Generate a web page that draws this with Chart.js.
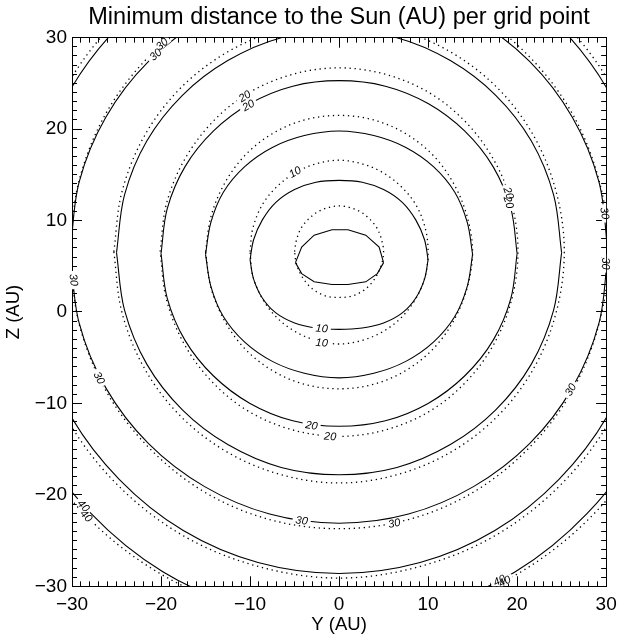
<!DOCTYPE html>
<html>
<head>
<meta charset="utf-8">
<title>Minimum distance to the Sun</title>
<script src="https://cdn.jsdelivr.net/npm/chart.js@4.4.1/dist/chart.umd.min.js"></script>
<style>
  html, body { margin: 0; padding: 0; background: #fff; }
  canvas { display: block; }
</style>
</head>
<body>
<canvas id="contours" width="634" height="637"></canvas>
<script>
// contour levels, AU
const levels = [5, 10, 15, 20, 25, 30, 35, 40];

const tickValues = [-30, -20, -10, 0, 10, 20, 30];
const tickLabels = ["\u221230", "\u221220", "\u221210", "0", "10", "20", "30"];

// solid contours, [Y, Z] in AU
const solid5 = [[-4.9,5.4],[-4.2,7.1],[-2.8,8.4],[-0.8,9.0],[1.0,9.0],[3.0,8.4],[4.5,7.1],[5.0,5.4],[4.3,4.2],[3.0,3.3],[1.0,3.0],[-0.8,3.0],[-2.8,3.3],[-4.2,4.2],[-4.9,5.4]];
const solid10 = [[-10.0,5.7],[-9.6,7.9],[-8.6,10.1],[-7.1,12.0],[-5.0,13.4],[-2.6,14.2],[0,14.4],[2.6,14.2],[5.0,13.4],[7.1,12.0],[8.6,10.1],[9.6,7.9],[10.0,5.7],[9.6,3.6],[8.6,1.5],[7.1,-0.1],[5.0,-1.2],[2.6,-1.75],[0,-1.9],[-2.6,-1.75],[-5.0,-1.2],[-7.1,-0.1],[-8.6,1.5],[-9.6,3.6],[-10.0,5.7]];
const solid15 = [[-15.0,6.3],[-14.4,9.8],[-13.0,13.1],[-10.6,15.9],[-7.5,18.0],[-3.9,19.3],[0,19.8],[3.9,19.3],[7.5,18.0],[10.6,15.9],[13.0,13.1],[14.4,9.8],[15.0,6.3],[14.4,2.8],[13.0,-0.5],[10.6,-3.3],[7.5,-5.4],[3.9,-6.7],[0,-7.2],[-3.9,-6.7],[-7.5,-5.4],[-10.6,-3.3],[-13.0,-0.5],[-14.4,2.8],[-15.0,6.3]];
const solid20 = [[-20.0,6.4],[-19.3,11.3],[-17.3,15.9],[-14.1,19.8],[-10.0,22.8],[-5.2,24.7],[0,25.3],[5.2,24.7],[10.0,22.8],[14.1,19.8],[17.3,15.9],[19.3,11.3],[20.0,6.4],[19.3,1.5],[17.3,-3.1],[14.1,-7.0],[10.0,-10.0],[5.2,-11.9],[0,-12.5],[-5.2,-11.9],[-10.0,-10.0],[-14.1,-7.0],[-17.3,-3.1],[-19.3,1.5],[-20.0,6.4]];
const solid25 = [[-25.0,6.5],[-24.1,12.8],[-21.6,18.7],[-17.6,23.7],[-12.5,27.5],[-6.5,30.0],[0,30.8],[6.5,30.0],[12.5,27.5],[17.6,23.7],[21.6,18.7],[24.1,12.8],[25.0,6.5],[24.1,0.2],[21.6,-5.7],[17.6,-10.7],[12.5,-14.5],[6.5,-17.0],[0,-17.8],[-6.5,-17.0],[-12.5,-14.5],[-17.6,-10.7],[-21.6,-5.7],[-24.1,0.2],[-25.0,6.5]];
const solid30 = [[-30.2,6.5],[-29.2,14.2],[-26.2,21.3],[-21.4,27.4],[-15.1,32.1],[-7.8,35.1],[0,36.1],[7.8,35.1],[15.1,32.1],[21.4,27.4],[26.2,21.3],[29.2,14.2],[30.2,6.5],[29.2,-1.2],[26.2,-8.3],[21.4,-14.4],[15.1,-19.1],[7.8,-22.1],[0,-23.1],[-7.8,-22.1],[-15.1,-19.1],[-21.4,-14.4],[-26.2,-8.3],[-29.2,-1.2],[-30.2,6.5]];
const solid35 = [[-35.0,6.5],[-33.8,15.6],[-30.3,24.1],[-24.7,31.3],[-17.5,36.9],[-9.1,40.4],[0,41.6],[9.1,40.4],[17.5,36.9],[24.7,31.3],[30.3,24.1],[33.8,15.6],[35.0,6.5],[33.8,-2.6],[30.3,-11.1],[24.7,-18.3],[17.5,-23.9],[9.1,-27.4],[0,-28.6],[-9.1,-27.4],[-17.5,-23.9],[-24.7,-18.3],[-30.3,-11.1],[-33.8,-2.6],[-35.0,6.5]];
const solid40 = [[-39.5,6.5],[-38.2,16.9],[-34.2,26.7],[-27.9,35.0],[-19.8,41.4],[-10.2,45.4],[0,46.8],[10.2,45.4],[19.8,41.4],[27.9,35.0],[34.2,26.7],[38.2,16.9],[39.5,6.5],[38.2,-3.9],[34.2,-13.7],[27.9,-22.0],[19.8,-28.4],[10.2,-32.4],[0,-33.8],[-10.2,-32.4],[-19.8,-28.4],[-27.9,-22.0],[-34.2,-13.7],[-38.2,-3.9],[-39.5,6.5]];

// dotted contours, [Y, Z] in AU
const dotted5 = [[-5.0,6.6],[-4.8,7.8],[-4.3,9.1],[-3.5,10.1],[-2.5,10.9],[-1.3,11.4],[0,11.6],[1.3,11.4],[2.5,10.9],[3.5,10.1],[4.3,9.1],[4.8,7.8],[5.0,6.6],[4.8,5.3],[4.3,4.1],[3.5,3.0],[2.5,2.2],[1.3,1.7],[0,1.6],[-1.3,1.7],[-2.5,2.2],[-3.5,3.0],[-4.3,4.1],[-4.8,5.3],[-5.0,6.6]];
const dotted10 = [[-10.0,6.6],[-9.7,9.1],[-8.7,11.6],[-7.1,13.6],[-5.0,15.2],[-2.6,16.2],[0,16.6],[2.6,16.2],[5.0,15.2],[7.1,13.6],[8.7,11.6],[9.7,9.1],[10.0,6.6],[9.7,4.0],[8.7,1.6],[7.1,-0.5],[5.0,-2.1],[2.6,-3.1],[0,-3.5],[-2.6,-3.1],[-5.0,-2.1],[-7.1,-0.5],[-8.7,1.6],[-9.7,4.0],[-10.0,6.6]];
const dotted15 = [[-15.0,6.6],[-14.4,10.4],[-12.9,14.0],[-10.6,17.1],[-7.5,19.5],[-3.9,21.0],[0,21.5],[3.9,21.0],[7.5,19.5],[10.6,17.1],[12.9,14.0],[14.4,10.4],[15.0,6.6],[14.4,2.7],[12.9,-0.9],[10.6,-4.0],[7.5,-6.4],[3.9,-7.9],[0,-8.4],[-3.9,-7.9],[-7.5,-6.4],[-10.6,-4.0],[-12.9,-0.9],[-14.4,2.7],[-15.0,6.6]];
const dotted20 = [[-20.1,6.6],[-19.4,11.8],[-17.4,16.6],[-14.2,20.8],[-10.1,24.0],[-5.2,26.0],[0,26.7],[5.2,26.0],[10.1,24.0],[14.2,20.8],[17.4,16.6],[19.4,11.8],[20.1,6.6],[19.4,1.4],[17.4,-3.5],[14.2,-7.7],[10.1,-10.9],[5.2,-12.9],[0,-13.6],[-5.2,-12.9],[-10.1,-10.9],[-14.2,-7.7],[-17.4,-3.5],[-19.4,1.4],[-20.1,6.6]];
const dotted25 = [[-25.3,6.6],[-24.4,13.1],[-21.9,19.2],[-17.9,24.4],[-12.6,28.4],[-6.5,30.9],[0,31.8],[6.5,30.9],[12.6,28.4],[17.9,24.4],[21.9,19.2],[24.4,13.1],[25.3,6.6],[24.4,0.0],[21.9,-6.1],[17.9,-11.3],[12.6,-15.3],[6.5,-17.8],[0,-18.7],[-6.5,-17.8],[-12.6,-15.3],[-17.9,-11.3],[-21.9,-6.1],[-24.4,0.0],[-25.3,6.6]];
const dotted30 = [[-30.3,6.6],[-29.2,14.4],[-26.2,21.7],[-21.4,27.9],[-15.1,32.8],[-7.8,35.8],[0,36.8],[7.8,35.8],[15.1,32.8],[21.4,27.9],[26.2,21.7],[29.2,14.4],[30.3,6.6],[29.2,-1.3],[26.2,-8.6],[21.4,-14.8],[15.1,-19.7],[7.8,-22.7],[0,-23.7],[-7.8,-22.7],[-15.1,-19.7],[-21.4,-14.8],[-26.2,-8.6],[-29.2,-1.3],[-30.3,6.6]];
const dotted35 = [[-35.6,6.6],[-34.4,15.8],[-30.8,24.4],[-25.2,31.7],[-17.8,37.4],[-9.2,40.9],[0,42.2],[9.2,40.9],[17.8,37.4],[25.2,31.7],[30.8,24.4],[34.4,15.8],[35.6,6.6],[34.4,-2.7],[30.8,-11.3],[25.2,-18.6],[17.8,-24.3],[9.2,-27.8],[0,-29.1],[-9.2,-27.8],[-17.8,-24.3],[-25.2,-18.6],[-30.8,-11.3],[-34.4,-2.7],[-35.6,6.6]];
const dotted40 = [[-40.5,6.6],[-39.1,17.0],[-35.1,26.8],[-28.6,35.2],[-20.3,41.6],[-10.5,45.7],[0,47.1],[10.5,45.7],[20.3,41.6],[28.6,35.2],[35.1,26.8],[39.1,17.0],[40.5,6.6],[39.1,-3.9],[35.1,-13.7],[28.6,-22.1],[20.3,-28.5],[10.5,-32.6],[0,-34.0],[-10.5,-32.6],[-20.3,-28.5],[-28.6,-22.1],[-35.1,-13.7],[-39.1,-3.9],[-40.5,6.6]];

// in-line contour labels: [level, Y, Z, angle in degrees]
const solidLabels = [[30,-20.6,28.15,-42],[20,-10.2,22.6,-29],[20,19.05,12.0,72],[30,29.85,10.8,81],[30,-29.8,3.5,84],[10,-1.95,-1.8,4],[20,-3.1,-12.4,8],[30,-4.2,-22.8,8],[30,26.0,-8.5,-59],[40,-28.7,-21.2,47],[40,18.0,-29.35,-27]];
const dottedLabels = [[30,-19.9,29.3,-41],[20,-10.6,23.6,-32],[10,-4.95,15.3,-30],[20,19.05,13.0,71],[30,29.9,5.3,90],[10,-1.95,-3.35,5],[20,-1.0,-13.6,3],[30,6.2,-23.1,-12],[30,-26.95,-7.2,63],[40,-28.4,-22.3,45],[40,18.6,-29.45,-27]];

const solidSet = [solid5, solid10, solid15, solid20, solid25, solid30, solid35, solid40];
const dottedSet = [dotted5, dotted10, dotted15, dotted20, dotted25, dotted30, dotted35, dotted40];

const W = 634, H = 637;
const frame = { left: 72, right: 622.3, top: 37.7, bottom: 586.3 };
const FONT = '"Liberation Sans", Arial, Helvetica, sans-serif';

Chart.defaults.font.family = FONT;
Chart.defaults.color = "#000";

const contour = (pts, dotted, tension) => ({
  data: pts.map(([y, z]) => ({ x: y, y: z })),
  showLine: true,
  borderColor: "#000",
  borderWidth: dotted ? 1.3 : 1.1,
  borderDash: dotted ? [1.3, 3.7] : [],
  pointRadius: 0,
  pointHoverRadius: 0,
  tension,
  capBezierPoints: false,
  xAxisID: "x",
  yAxisID: "y",
});

// solid rings have a point at both ends of their widest chord, so draw
// the upper and lower halves as separate strokes
const splitAtWidest = (pts) => {
  let k = 0;
  pts.forEach((p, i) => { if (p[0] > pts[k][0]) k = i; });
  return [pts.slice(0, k + 1), pts.slice(k)];
};

const datasets = [
  ...solidSet.flatMap((pts, i) =>
    splitAtWidest(pts).map((arc) => contour(arc, false, levels[i] === 5 ? 0 : 0.34))),
  ...dottedSet.map((pts) => contour(pts, true, 0.34)),
];

const tickText = (v) => {
  const i = tickValues.indexOf(v);
  return i < 0 ? "" : tickLabels[i];
};

// IDL style box: inward tick marks on all four sides, minor every 1 AU
const edgeAxis = (position, step, length, weight, size) => ({
  type: "linear",
  axis: position === "top" || position === "bottom" ? "x" : "y",
  position,
  min: -30,
  max: 30,
  weight,
  display: true,
  z: 1,
  ticks: { display: false, stepSize: step },
  grid: {
    display: true,
    drawOnChartArea: false,
    drawTicks: true,
    tickLength: -length,
    tickColor: "#000",
    tickWidth: 1,
  },
  border: { display: step === 10, color: "#000", width: 1 },
  afterFit: (s) => {
    if (s.isHorizontal()) s.height = size;
    else s.width = size;
  },
});

const labelAxis = (position, size, padding, titleText, titlePadding) => ({
  ...edgeAxis(position, 10, 10, 1, size),
  ticks: {
    display: true,
    stepSize: 10,
    padding,
    color: "#000",
    font: { family: FONT, size: 19 },
    maxRotation: 0,
    autoSkip: false,
    callback: (v) => tickText(v),
  },
  title: {
    display: true,
    text: titleText,
    color: "#000",
    font: { family: FONT, size: 18.5, lineHeight: 1.2 },
    padding: titlePadding,
  },
});

const contourLabels = {
  id: "contourLabels",
  afterDatasetsDraw(chart) {
    const { ctx, chartArea: area, scales } = chart;
    const spots = [...solidLabels, ...dottedLabels].map(([level, y, z, angle]) => ({
      text: String(level),
      px: scales.x.getPixelForValue(y),
      py: scales.y.getPixelForValue(z),
      rot: (angle * Math.PI) / 180,
    }));
    ctx.save();
    ctx.font = "italic 11px " + FONT;
    ctx.textAlign = "center";
    ctx.textBaseline = "middle";

    // break the contour line behind each label
    ctx.save();
    ctx.beginPath();
    ctx.rect(area.left, area.top, area.width, area.height);
    ctx.clip();
    ctx.fillStyle = "#fff";
    spots.forEach((s) => {
      const w = ctx.measureText(s.text).width + 6;
      ctx.save();
      ctx.translate(s.px, s.py);
      ctx.rotate(s.rot);
      ctx.fillRect(-w / 2, -4, w, 8);
      ctx.restore();
    });
    ctx.restore();

    ctx.fillStyle = "#000";
    spots.forEach((s) => {
      ctx.save();
      ctx.translate(s.px, s.py);
      ctx.rotate(s.rot);
      ctx.fillText(s.text, 0, 0.5);
      ctx.restore();
    });
    ctx.restore();
  },
};

new Chart(document.getElementById("contours"), {
  type: "scatter",
  data: { datasets },
  options: {
    responsive: false,
    animation: false,
    events: [],
    layout: { padding: 0, autoPadding: false },
    plugins: {
      legend: { display: false },
      tooltip: { enabled: false },
      title: {
        display: true,
        fullSize: false,
        text: "Minimum distance to the Sun (AU) per grid point",
        color: "#000",
        font: { family: FONT, size: 23.5, weight: "normal", lineHeight: 1.2 },
        padding: { top: 3.8, bottom: 5.7 },
      },
    },
    scales: {
      xMinor: edgeAxis("bottom", 1, 5, 0, 0),
      yMinor: edgeAxis("left", 1, 5, 0, 0),
      xTopMinor: edgeAxis("top", 1, 5, 0, 0),
      yRightMinor: edgeAxis("right", 1, 5, 0, 0),
      xTop: edgeAxis("top", 10, 10, 1, 0),
      yRight: edgeAxis("right", 10, 10, 1, W - frame.right),
      x: labelAxis("bottom", H - frame.bottom, 17.3, "Y (AU)", { top: 0, bottom: 0.5 }),
      y: labelAxis("left", frame.left, 15, "Z (AU)", { top: 2.4, bottom: 0 }),
    },
  },
  plugins: [contourLabels],
});
</script>
</body>
</html>
